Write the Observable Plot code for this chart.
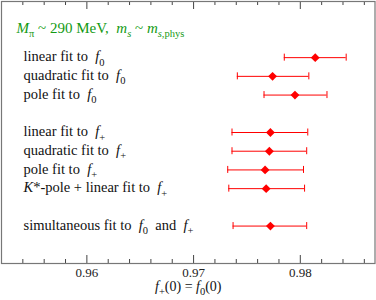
<!DOCTYPE html>
<html><head><meta charset="utf-8">
<script src="https://cdn.jsdelivr.net/npm/d3@7"></script>
<script src="https://cdn.jsdelivr.net/npm/@observablehq/plot@0.6"></script>
<style>body{margin:0;background:#fff} svg text{font-family:"Liberation Serif","Times New Roman",serif !important;}</style>
</head><body><div id="chart"></div>
<script>
// Markup: *...* = italic, _{...} = subscript, \u2217 = literal asterisk
const fits = [
  "linear fit to\u00a0 *f*_{0}",
  "quadratic fit to\u00a0 *f*_{0}",
  "pole fit to\u00a0 *f*_{0}",
  "linear fit to\u00a0 *f*_{+}",
  "quadratic fit to\u00a0 *f*_{+}",
  "pole fit to\u00a0 *f*_{+}",
  "*K*\u2217-pole + linear fit to\u00a0 *f*_{+}",
  "simultaneous fit to\u00a0 *f*_{0}\u00a0 and\u00a0 *f*_{+}"
];
const group   = [0, 0, 0, 1, 1, 1, 1, 2];
const central = [0.9814, 0.9774, 0.9795, 0.9772, 0.9771, 0.9767, 0.9768, 0.9772];
const lower   = [0.9785, 0.9741, 0.9766, 0.9736, 0.9736, 0.9732, 0.9733, 0.9737];
const upper   = [0.9843, 0.9808, 0.9825, 0.9807, 0.9806, 0.9803, 0.9804, 0.9806];
const majorTicks = [0.96, 0.97, 0.98];
const minorTicks = [0.954, 0.956, 0.958, 0.962, 0.964, 0.966, 0.968, 0.972, 0.974, 0.976, 0.978, 0.982, 0.984, 0.986];
const title  = "*M*_{π} ~ 290 MeV,\u00a0 *m*_{*s*} ~ *m*_{*s*,phys}";
const xLabel = "*f*_{+}(0) = *f*_{0}(0)";

const rows = fits.map((label, i) => ({label, pos: i + 1 + group[i], c: central[i], lo: lower[i], hi: upper[i]}));

const W = 376, H = 300, mT = 1, mB = 37, mL = 1, mR = 1.5;
const fh = H - mT - mB;
const red = "#ff0000", axisCol = "#444";
const serif = "Liberation Serif";

const chart = Plot.plot({
  width: W, height: H,
  marginTop: mT, marginBottom: mB, marginLeft: mL, marginRight: mR,
  style: {fontFamily: serif, fontSize: "14px", background: "#fff", color: "#111"},
  x: {domain: [0.952, 0.987]},
  y: {domain: [-2, 12], reverse: true, axis: null},
  marks: [
    Plot.tickX(minorTicks, {x: d => d, insetTop: fh - 4, stroke: axisCol}),
    Plot.tickX(minorTicks, {x: d => d, insetBottom: fh - 4, stroke: axisCol}),
    Plot.tickX(majorTicks, {x: d => d, insetTop: fh - 8, stroke: axisCol}),
    Plot.tickX(majorTicks, {x: d => d, insetBottom: fh - 8, stroke: axisCol}),
    Plot.axisX({ticks: majorTicks, tickSize: 0, tickPadding: 4, tickFormat: ".2f", fontSize: 13, fontFamily: serif, fill: "#222", label: null}),
    Plot.ruleY(rows, {y: "pos", x1: "lo", x2: "hi", stroke: red}),
    Plot.ruleX(rows, {x: "lo", y1: "pos", y2: "pos", insetTop: -3.5, insetBottom: -3.5, stroke: red}),
    Plot.ruleX(rows, {x: "hi", y1: "pos", y2: "pos", insetTop: -3.5, insetBottom: -3.5, stroke: red}),
    Plot.dot(rows, {x: "c", y: "pos", symbol: "diamond2", r: 4, fill: red, stroke: "none"}),
    Plot.text(rows, {y: "pos", text: "label", frameAnchor: "left", textAnchor: "start", dx: 22, dy: -1, fill: "#111", fontSize: 14.5, fontFamily: serif}),
    Plot.text([title], {text: d => d, frameAnchor: "top-left", lineAnchor: "top", textAnchor: "start", dx: 15, dy: 20.5, fill: "#139a13", fontSize: 15, fontFamily: serif}),
    Plot.text([xLabel], {text: d => d, frameAnchor: "bottom", lineAnchor: "top", dy: 17.5, fill: "#111", fontSize: 14, fontFamily: serif}),
    Plot.frame({stroke: "#777", strokeWidth: 1.2})
  ]
});

function parse(s) {
  const runs = []; let italic = false, sub = false, buf = "";
  const push = () => { if (buf) { runs.push({t: buf, italic, sub}); buf = ""; } };
  for (let i = 0; i < s.length; i++) {
    const ch = s[i];
    if (ch === "*") { push(); italic = !italic; }
    else if (ch === "_" && s[i + 1] === "{") { push(); sub = true; i++; }
    else if (ch === "}" && sub) { push(); sub = false; }
    else buf += ch;
  }
  push();
  return runs;
}
chart.querySelectorAll('g[aria-label="text"] text').forEach(t => {
  const s = t.textContent;
  if (!/[*_]/.test(s)) return;
  const runs = parse(s);
  t.textContent = "";
  let shift = 0;
  runs.forEach(r => {
    const ts = document.createElementNS("http://www.w3.org/2000/svg", "tspan");
    const target = r.sub ? 4.5 : 0;
    if (target !== shift) { ts.setAttribute("dy", target - shift); shift = target; }
    if (r.italic) ts.setAttribute("font-style", "italic");
    if (r.sub) ts.setAttribute("font-size", "10.5");
    ts.textContent = r.t.replace(/\u2217/g, "*");
    t.appendChild(ts);
  });
});
document.getElementById("chart").appendChild(chart);
</script>
</body></html>
